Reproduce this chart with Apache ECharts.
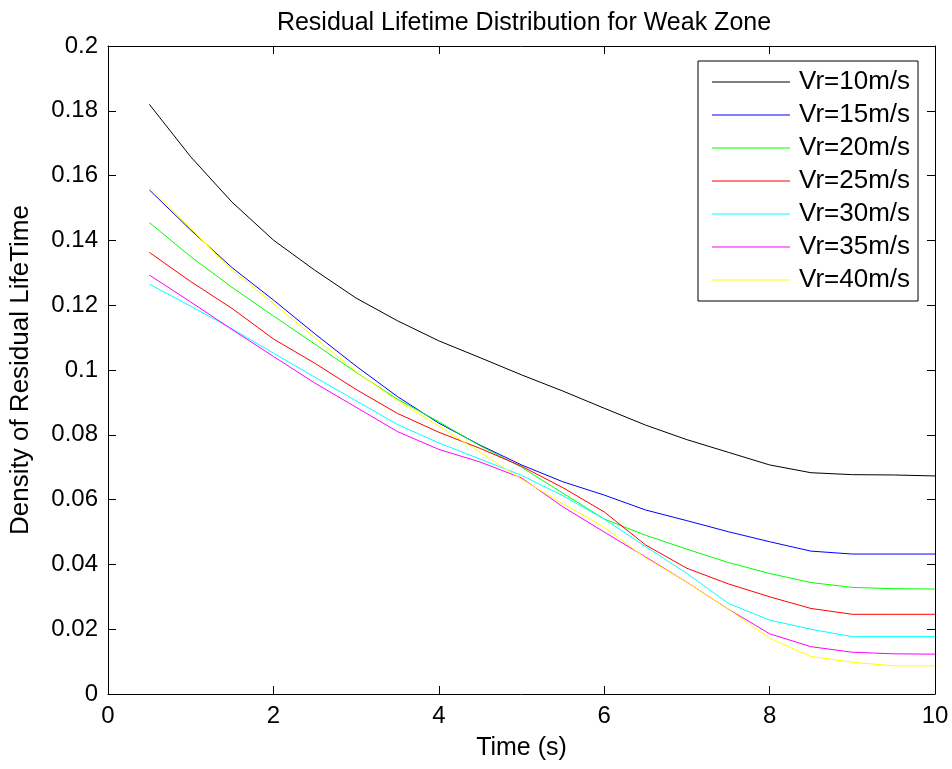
<!DOCTYPE html>
<html>
<head>
<meta charset="utf-8">
<script src="https://cdn.jsdelivr.net/npm/echarts@6/dist/echarts.min.js"></script>
<style>
	html, body { margin: 0; padding: 0; background: #fff; }
	#chart { width: 952px; height: 769px; }
</style>
</head>
<body>
<div id="chart"></div>
<script>
	var timeData = [0.5, 1, 1.5, 2, 2.5, 3, 3.5, 4, 4.5, 5, 5.5, 6, 6.5, 7, 7.5, 8, 8.5, 9, 9.5, 10];
	var seriesNames = ['Vr=10m/s', 'Vr=15m/s', 'Vr=20m/s', 'Vr=25m/s', 'Vr=30m/s', 'Vr=35m/s', 'Vr=40m/s'];
	var seriesColors = ['#000000', '#0000ff', '#00ff00', '#ff0000', '#00ffff', '#ff00ff', '#ffff00'];
	var vr10 = [0.1820, 0.1658, 0.1518, 0.1401, 0.1308, 0.1222, 0.1152, 0.1090, 0.1038, 0.0985, 0.0935, 0.0882, 0.0830, 0.0785, 0.0746, 0.0707, 0.0683, 0.0677, 0.0676, 0.0673];
	var vr15 = [0.1556, 0.1432, 0.1316, 0.1216, 0.1112, 0.1012, 0.0918, 0.0836, 0.0768, 0.0707, 0.0655, 0.0614, 0.0568, 0.0535, 0.0501, 0.0470, 0.0441, 0.0432, 0.0432, 0.0432];
	var vr20 = [0.1455, 0.1350, 0.1255, 0.1167, 0.1080, 0.0993, 0.0910, 0.0840, 0.0766, 0.0700, 0.0620, 0.0540, 0.0490, 0.0447, 0.0406, 0.0372, 0.0344, 0.0329, 0.0325, 0.0324];
	var vr25 = [0.1363, 0.1273, 0.1190, 0.1096, 0.1021, 0.0940, 0.0866, 0.0808, 0.0758, 0.0703, 0.0637, 0.0562, 0.0460, 0.0388, 0.0340, 0.0300, 0.0264, 0.0246, 0.0246, 0.0246];
	var vr30 = [0.1265, 0.1197, 0.1127, 0.1052, 0.0978, 0.0905, 0.0832, 0.0775, 0.0725, 0.0675, 0.0612, 0.0540, 0.0455, 0.0372, 0.0280, 0.0228, 0.0200, 0.0177, 0.0177, 0.0177];
	var vr35 = [0.1293, 0.1210, 0.1125, 0.1042, 0.0960, 0.0885, 0.0810, 0.0755, 0.0716, 0.0667, 0.0578, 0.0500, 0.0423, 0.0345, 0.0262, 0.0186, 0.0146, 0.0129, 0.0124, 0.0123];
	var vr40 = [0.1566, 0.1436, 0.1309, 0.1205, 0.1100, 0.0995, 0.0905, 0.0827, 0.0746, 0.0663, 0.0587, 0.0515, 0.0420, 0.0345, 0.0262, 0.0172, 0.0116, 0.0098, 0.0087, 0.0087];
	var allValues = [vr10, vr15, vr20, vr25, vr30, vr35, vr40];
	var yTickLabels = ['0', '0.02', '0.04', '0.06', '0.08', '0.1', '0.12', '0.14', '0.16', '0.18', '0.2'];

	var fontName = 'Liberation Sans';
	var axisColor = '#000';

	var series = seriesNames.map(function (name, i) {
		return {
			name: name,
			type: 'line',
			symbol: 'none',
			data: timeData.map(function (t, j) { return [t, allValues[i][j]]; }),
			lineStyle: { color: seriesColors[i], width: 1 },
			itemStyle: { color: seriesColors[i] },
			animation: false
		};
	});

	function boxAxis(pos, showLabel, extra) {
		var a = {
			type: 'value',
			position: pos,
			axisLine: { show: true, onZero: false, lineStyle: { color: axisColor, width: 1 } },
			axisTick: { show: true, inside: true, length: 8, lineStyle: { color: axisColor } },
			splitLine: { show: false },
			axisLabel: { show: showLabel, color: '#000', fontFamily: fontName, fontSize: 24 }
		};
		for (var k in extra) a[k] = extra[k];
		return a;
	}

	var option = {
		backgroundColor: '#fff',
		animation: false,
		title: {
			text: 'Residual Lifetime Distribution for Weak Zone',
			left: 519,
			textAlign: 'center',
			top: 6,
			textStyle: { color: '#000', fontFamily: fontName, fontSize: 25, fontWeight: 'normal' }
		},
		legend: {
			orient: 'vertical',
			left: 698,
			top: 61,
			data: seriesNames,
			icon: 'rect',
			itemWidth: 78,
			itemHeight: 1,
			itemGap: 7,
			padding: [8, 8, 8, 14],
			borderColor: '#000',
			borderWidth: 1,
			backgroundColor: '#fff',
			textStyle: { color: '#000', fontFamily: fontName, fontSize: 26, lineHeight: 26, padding: [0, 0, 0, 4] }
		},
		grid: { left: 108, right: 17, top: 46, bottom: 75, containLabel: false },
		xAxis: [
			boxAxis('bottom', true, {
				min: 0, max: 10, interval: 2,
				name: 'Time (s)', nameLocation: 'middle', nameGap: 42,
				nameTextStyle: { color: '#000', fontFamily: fontName, fontSize: 25 },
				axisLabel: { show: true, color: '#000', fontFamily: fontName, fontSize: 24, margin: 10 }
			}),
			boxAxis('top', false, { min: 0, max: 10, interval: 2 })
		],
		yAxis: [
			boxAxis('left', true, {
				min: 0, max: 0.2, interval: 0.02,
				name: 'Density of Residual LifeTime', nameLocation: 'middle', nameGap: 74,
				nameTextStyle: { color: '#000', fontFamily: fontName, fontSize: 26 },
				axisLabel: {
					show: true, color: '#000', fontFamily: fontName, fontSize: 24, margin: 10,
					formatter: function (v) { return yTickLabels[Math.round(v / 0.02)]; }
				}
			}),
			boxAxis('right', false, { min: 0, max: 0.2, interval: 0.02 })
		],
		series: series
	};

	var myChart = echarts.init(document.getElementById('chart'));
	myChart.setOption(option);
</script>
</body>
</html>
